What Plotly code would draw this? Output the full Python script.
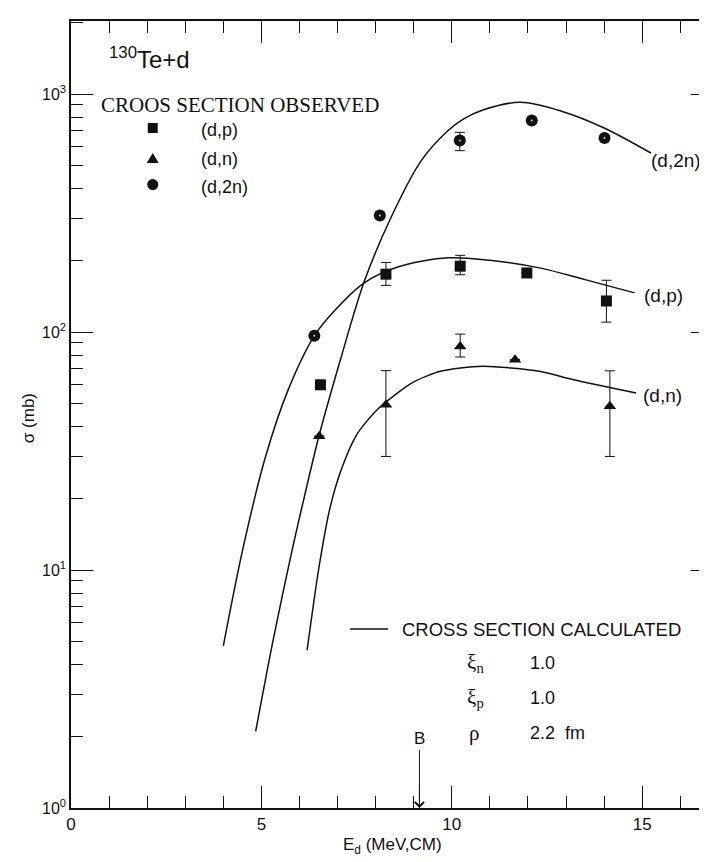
import plotly.graph_objects as go

# ---------------- data ----------------
# measured (d,p)
E_dp = [6.55, 8.27, 10.22, 11.97, 14.06]
sig_dp = [60, 175, 189, 177, 135]
dp_err_plus = [0, 21, 21, 0, 30]
dp_err_minus = [0, 18, 15, 0, 25]

# measured (d,n)
E_dn = [6.52, 8.27, 10.22, 11.66, 14.15]
sig_dn = [36.5, 49.5, 87, 76.5, 48.7]
dn_err_plus = [0, 19.3, 11, 0, 20]
dn_err_minus = [0, 19.5, 8.5, 0, 18.7]

# measured (d,2n)
E_d2n = [6.39, 8.11, 10.21, 12.10, 14.01]
sig_d2n = [96.5, 309, 637, 773, 653]
d2n_err_plus = [0, 0, 53, 0, 0]
d2n_err_minus = [0, 0, 59, 0, 0]

# calculated curves
calc_dp_E = [4.0, 4.5, 5.1, 5.7, 6.4, 6.9, 7.7, 8.6, 9.9, 11.0, 12.3, 13.5, 14.8]
calc_dp_sig = [4.8, 12, 29.6, 57, 97, 122, 161, 188, 205, 200, 186, 166, 146]

calc_d2n_E = [4.85, 5.3, 5.8, 6.26, 6.52, 7.09, 7.7, 8.4, 9.18, 9.88, 10.3, 10.8, 11.8, 12.9, 14.0, 15.23]
calc_d2n_sig = [2.1, 5.0, 12, 25, 37, 78, 163, 302, 520, 697, 785, 855, 923, 845, 720, 565]

calc_dn_E = [6.2, 6.5, 6.8, 7.1, 7.5, 8.0, 8.5, 9.0, 9.7, 10.8, 12.3, 13.2, 14.84]
calc_dn_sig = [4.6, 10, 18.2, 26.5, 37, 46.5, 54.3, 61.7, 68.4, 71.8, 68.4, 63, 55.4]

x_ticks = [0, 5, 10, 15]
y_ticks = [1, 10, 100, 1000]
y_tick_text = ["10<sup>0</sup>", "10<sup>1</sup>", "10<sup>2</sup>", "10<sup>3</sup>"]
arrow_E = 9.15

# ---------------- layout geometry ----------------
FW, FH = 707, 862
L, R, T, B = 63, 0, 13, 62
W = FW - L - R
H = FH - T - B
X_MAX = W / 38.2
Y_MAX = H / 238.0


def px(x):
    return (x - L) / W


def py(y):
    return (FH - B - y) / H


SANS = "Liberation Sans, Arial, sans-serif"
SERIF = "Liberation Serif, Times New Roman, serif"
INK = "#111111"

fig = go.Figure()

for ex, sy, sm in [(calc_d2n_E, calc_d2n_sig, 0.9), (calc_dp_E, calc_dp_sig, 0.9),
                   (calc_dn_E, calc_dn_sig, 0.7)]:
    fig.add_trace(go.Scatter(x=ex, y=sy, mode="lines",
                             line=dict(color=INK, width=1.5, shape="spline", smoothing=sm),
                             hoverinfo="skip", showlegend=False))


def err(plus, minus):
    return dict(type="data", symmetric=False, array=plus, arrayminus=minus,
                color=INK, thickness=1, width=5)


fig.add_trace(go.Scatter(x=E_dp, y=sig_dp, mode="markers",
                         marker=dict(symbol="square", size=11, color=INK),
                         error_y=err(dp_err_plus, dp_err_minus), showlegend=False))
fig.add_trace(go.Scatter(x=E_dn, y=sig_dn, mode="markers",
                         marker=dict(symbol="triangle-up", size=11, color=INK),
                         error_y=err(dn_err_plus, dn_err_minus), showlegend=False))
fig.add_trace(go.Scatter(x=E_d2n, y=sig_d2n, mode="markers",
                         marker=dict(symbol="circle", size=12, color=INK),
                         error_y=err(d2n_err_plus, d2n_err_minus), showlegend=False))
fig.add_trace(go.Scatter(x=E_d2n, y=sig_d2n, mode="markers",
                         marker=dict(symbol="circle", size=2, color="#cccccc"),
                         hoverinfo="skip", showlegend=False))

annotations = []


def text(x, y, s, size, family=SANS, xanchor="left", angle=0):
    annotations.append(dict(xref="paper", yref="paper", x=px(x), y=py(y), text=s,
                            showarrow=False, xanchor=xanchor, yanchor="middle",
                            textangle=angle,
                            font=dict(family=family, size=size, color=INK)))


text(99, 50, "<sup>130</sup>Te+d", 24)
text(91, 97, "CROOS SECTION OBSERVED", 21, SERIF)
text(191, 122, "(d,p)", 18)
text(191, 151, "(d,n)", 18)
text(191, 179, "(d,2n)", 18)
text(643, 152, "(d,2n)", 19)
text(636, 287, "(d,p)", 19)
text(635, 387, "(d,n)", 19)
text(393, 621, "CROSS SECTION CALCULATED", 18.5)
text(458, 655, "ξ<sub>n</sub>", 21, SERIF)
text(521, 655, "1.0", 18)
text(458, 690, "ξ<sub>p</sub>", 21, SERIF)
text(521, 690, "1.0", 18)
text(460, 725, "ρ", 21, SERIF)
text(521, 725, "2.2  fm", 18)
text(413, 730, "B", 17, xanchor="center")
text(385, 838, "E<sub>d</sub> (MeV,CM)", 17, xanchor="center")
text(20, 410, "σ (mb)", 17, xanchor="center", angle=-90)

shapes = []
# legend glyphs
shapes.append(dict(type="rect", xref="paper", yref="paper",
                   x0=px(140), x1=px(150), y0=py(125), y1=py(115),
                   fillcolor=INK, line=dict(width=0)))
shapes.append(dict(type="path", xref="paper", yref="paper",
                   path=f"M {px(139)} {py(155)} L {px(151)} {py(155)} L {px(145)} {py(145)} Z",
                   fillcolor=INK, line=dict(width=0)))
shapes.append(dict(type="circle", xref="paper", yref="paper",
                   x0=px(139.5), x1=px(150.5), y0=py(182), y1=py(171),
                   fillcolor=INK, line=dict(width=0)))
# calculated-curve legend line
shapes.append(dict(type="line", xref="paper", yref="paper",
                   x0=px(343), x1=px(381), y0=py(621), y1=py(621),
                   line=dict(color=INK, width=1.5)))
# barrier arrow
shapes.append(dict(type="line", xref="x", yref="paper",
                   x0=arrow_E, x1=arrow_E, y0=py(742), y1=0,
                   line=dict(color=INK, width=1)))
annotations.append(dict(xref="x", yref="paper", x=arrow_E, y=0, ax=0, ay=-24,
                        axref="pixel", ayref="pixel", showarrow=True, arrowhead=4,
                        arrowsize=2.2, arrowwidth=0.8, arrowcolor=INK, text=""))

fig.update_layout(
    width=FW, height=FH,
    margin=dict(l=L, r=R, t=T, b=B),
    paper_bgcolor="white", plot_bgcolor="white",
    font=dict(family=SANS, color=INK),
    annotations=annotations, shapes=shapes,
)

fig.update_xaxes(
    range=[0, X_MAX], tickvals=x_ticks, ticks="inside", ticklen=22, tickwidth=1,
    tickcolor=INK, showline=True, linecolor=INK, linewidth=1.5, mirror="ticks",
    showgrid=False, zeroline=False,
    tickfont=dict(size=17, family=SANS),
    minor=dict(dtick=1, ticks="inside", ticklen=12, tickcolor=INK, showgrid=False),
)
minor_vals = [m * d for d in (1, 10, 100, 1000) for m in range(2, 10)]
fig.update_yaxes(
    type="log", range=[0, Y_MAX], tickvals=y_ticks, ticktext=y_tick_text,
    ticks="inside", ticklen=22, tickwidth=1, tickcolor=INK,
    showline=True, linecolor=INK, linewidth=1.5, mirror="ticks",
    showgrid=False, zeroline=False,
    tickfont=dict(size=16, family=SANS),
    minor=dict(tickvals=minor_vals, ticks="inside", ticklen=12, tickcolor=INK, showgrid=False),
)

fig.write_html("out.html")
